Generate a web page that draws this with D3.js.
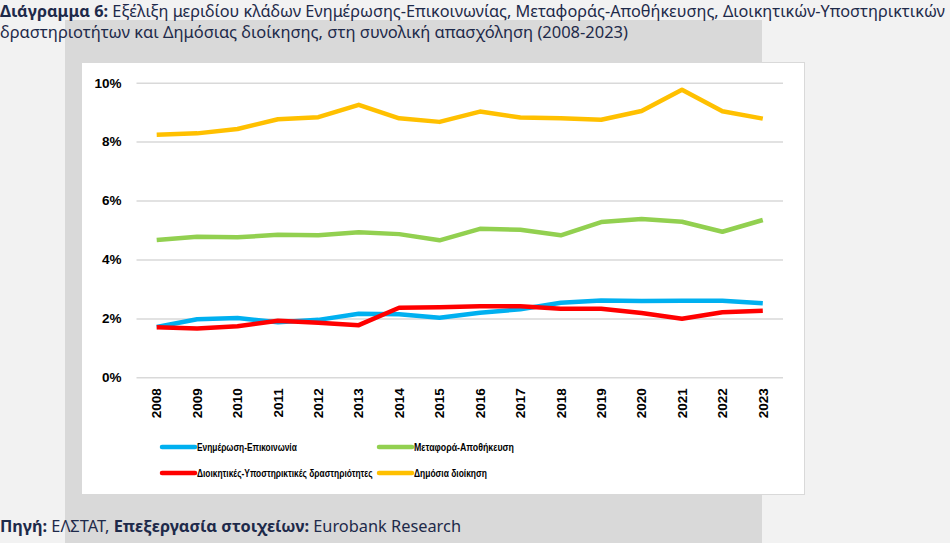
<!DOCTYPE html>
<html><head><meta charset="utf-8">
<script src="https://cdn.jsdelivr.net/npm/d3@7"></script>
<style>
html,body{margin:0;padding:0;background:#f2f2f2;}
svg{display:block;}
</style></head>
<body>
<script>
const years = ["2008","2009","2010","2011","2012","2013","2014","2015","2016","2017","2018","2019","2020","2021","2022","2023"];
const infoComm = [1.71,1.97,2.01,1.87,1.95,2.16,2.14,2.02,2.19,2.31,2.53,2.61,2.59,2.60,2.60,2.51];
const transport = [4.66,4.77,4.75,4.84,4.82,4.92,4.86,4.65,5.04,5.01,4.82,5.27,5.37,5.28,4.94,5.34];
const adminSupport = [1.70,1.66,1.73,1.92,1.85,1.77,2.36,2.38,2.41,2.41,2.33,2.33,2.18,1.99,2.21,2.26];
const publicAdmin = [8.23,8.28,8.43,8.76,8.83,9.25,8.79,8.67,9.02,8.82,8.79,8.74,9.04,9.76,9.03,8.78];
const yTicks = [0,2,4,6,8,10];
const seriesNames = ["Ενημέρωση-Επικοινωνία","Μεταφορά-Αποθήκευση","Διοικητικές-Υποστηρικτικές δραστηριότητες","Δημόσια διοίκηση"];
const seriesColors = ["#00b0f0","#92d050","#ff0000","#ffc000"];
const seriesData = [infoComm, transport, adminSupport, publicAdmin];

const W = 950, H = 543;
const svg = d3.select("body").append("svg").attr("width", W).attr("height", H);

svg.append("rect").attr("x",0).attr("y",0).attr("width",W).attr("height",H).attr("fill","#f2f2f2");
svg.append("rect").attr("x",65).attr("y",20).attr("width",697).attr("height",H-20).attr("fill","#d9d9d9");
svg.append("rect").attr("x",81.5).attr("y",62.5).attr("width",723).attr("height",432).attr("fill","#ffffff").attr("stroke","#d9d9d9").attr("stroke-width",1);

const titleFont = "'Noto Sans', sans-serif";
const t1 = svg.append("text").attr("x",0).attr("y",17).attr("font-family",titleFont).attr("font-size",15.5).attr("fill","#1e2a4a")
  .attr("textLength",945).attr("lengthAdjust","spacingAndGlyphs");
t1.append("tspan").attr("font-weight","bold").text("Διάγραμμα 6: ");
t1.append("tspan").text("Εξέλιξη μεριδίου κλάδων Ενημέρωσης-Επικοινωνίας, Μεταφοράς-Αποθήκευσης, Διοικητικών-Υποστηρικτικών");
svg.append("text").attr("x",0).attr("y",38).attr("font-family",titleFont).attr("font-size",15.5).attr("fill","#1e2a4a")
  .attr("textLength",628).attr("lengthAdjust","spacingAndGlyphs")
  .text("δραστηριοτήτων και Δημόσιας διοίκησης, στη συνολική απασχόληση (2008-2023)");

const ft = svg.append("text").attr("x",0).attr("y",532).attr("font-family",titleFont).attr("font-size",15.5).attr("fill","#1e2a4a")
  .attr("textLength",461).attr("lengthAdjust","spacingAndGlyphs");
ft.append("tspan").attr("font-weight","bold").text("Πηγή: ");
ft.append("tspan").text("ΕΛΣΤΑΤ, ");
ft.append("tspan").attr("font-weight","bold").text("Επεξεργασία στοιχείων: ");
ft.append("tspan").text("Eurobank Research");

const x = d3.scaleBand().domain(years).range([136.5, 783]);
const y = d3.scaleLinear().domain([0,10]).range([377.3, 82.7]);

const axisFont = "'Liberation Sans', Arial, sans-serif";
const yAxis = svg.append("g").attr("transform","translate(136.5,0)")
  .call(d3.axisLeft(y).tickValues(yTicks).tickSize(-(783-136.5)).tickFormat(d => d + "%"));
yAxis.select(".domain").remove();
yAxis.selectAll(".tick line").attr("stroke","#d9d9d9").attr("stroke-width",1.5);
yAxis.selectAll(".tick text").attr("x",-15).attr("font-family",axisFont).attr("font-weight","bold").attr("font-size",13.5).attr("fill","#000");

const xAxis = svg.append("g").attr("transform","translate(0,377.3)")
  .call(d3.axisBottom(x).tickSize(0));
xAxis.select(".domain").remove();
xAxis.selectAll(".tick text")
  .attr("font-family",axisFont).attr("font-weight","bold").attr("font-size",13.5).attr("fill","#000")
  .attr("transform","rotate(-90)").attr("x",-11).attr("y",0).attr("dy","0.35em").attr("text-anchor","end");

const line = d3.line().x((d,i) => x(years[i]) + x.bandwidth()/2).y(d => y(d));
seriesData.forEach((s, k) => {
  svg.append("path").datum(s).attr("d", line).attr("fill","none")
    .attr("stroke", seriesColors[k]).attr("stroke-width",4.5).attr("stroke-linejoin","round");
});

const legendPos = [[162,447],[379,447],[162,473],[379,473]];
const legendWidths = [100,100,176,73];
const legFont = "'Liberation Sans', Arial, sans-serif";
seriesNames.forEach((n, k) => {
  const [lx, ly] = legendPos[k];
  svg.append("line").attr("x1",lx).attr("x2",lx+33).attr("y1",ly).attr("y2",ly)
    .attr("stroke",seriesColors[k]).attr("stroke-width",4.5).attr("stroke-linecap","round");
  const g = svg.append("g");
  const t = g.append("text").attr("x",0).attr("y",0).attr("dy","0.35em")
    .attr("font-family",legFont).attr("font-weight","bold").attr("font-size",11).attr("fill","#000").text(n);
  const natural = t.node().getComputedTextLength();
  const sx = legendWidths[k] / natural;
  g.attr("transform", `translate(${lx+35},${ly}) scale(${sx},1)`);
});
</script>
</body></html>
